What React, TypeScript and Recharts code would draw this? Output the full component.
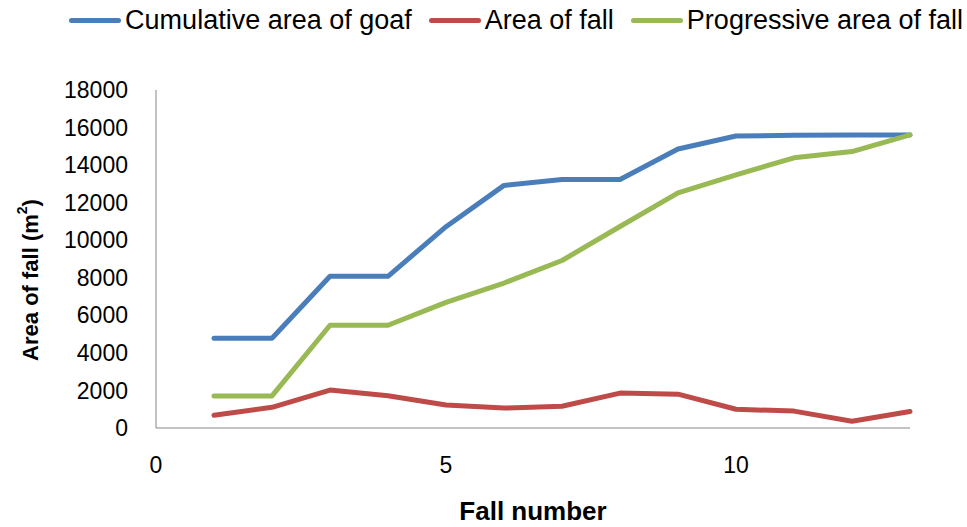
import { LineChart, Line, XAxis, YAxis, Legend, Label } from "recharts";

const fallNumbers = [1, 2, 3, 4, 5, 6, 7, 8, 9, 10, 11, 12, 13];
const cumulativeGoaf = [4780, 4780, 8080, 8080, 10720, 12920, 13230, 13230, 14860, 15550, 15590, 15600, 15610];
const areaOfFall = [680, 1100, 2020, 1720, 1220, 1060, 1160, 1860, 1800, 1000, 900, 360, 880];
const progressiveFall = [1710, 1710, 5470, 5470, 6690, 7720, 8920, 10730, 12520, 13480, 14390, 14720, 15610];
const xTicks = [0, 5, 10];
const yTicks = [0, 2000, 4000, 6000, 8000, 10000, 12000, 14000, 16000, 18000];

const series = [
    { key: "goaf", name: "Cumulative area of goaf", color: "#4A7EBB" },
    { key: "fall", name: "Area of fall", color: "#BE4B48" },
    { key: "progressive", name: "Progressive area of fall", color: "#98B954" },
];

const data = fallNumbers.map((n, i) => ({
    n,
    goaf: cumulativeGoaf[i],
    fall: areaOfFall[i],
    progressive: progressiveFall[i],
}));

const font = "'Liberation Sans', Arial, sans-serif";

function LegendBox() {
    return (
        <div style={{ display: "flex", justifyContent: "flex-end", alignItems: "center", height: 34, fontFamily: font, fontSize: 27, color: "#000", paddingRight: 4 }}>
            {series.map(s => (
                <div key={s.key} style={{ display: "flex", alignItems: "center", marginLeft: 17 }}>
                    <div style={{ width: 52, height: 5, borderRadius: 3, background: s.color, marginRight: 4 }} />
                    <span>{s.name}</span>
                </div>
            ))}
        </div>
    );
}

export default function App() {
    return (
        <div style={{ position: "absolute", left: 0, top: 0, background: "#fff" }}>
            <LineChart width={967} height={527} data={data} margin={{ top: 56, right: 57, bottom: 0, left: 0 }}>
                <Legend verticalAlign="top" content={() => <LegendBox />} wrapperStyle={{ top: 3, left: 0, width: 967 }} />
                <XAxis
                    dataKey="n"
                    type="number"
                    domain={[0, 13]}
                    ticks={xTicks}
                    tickLine={false}
                    tickMargin={23}
                    height={99}
                    stroke="#868686"
                    tick={{ fill: "#000", fontSize: 23, fontFamily: font }}
                >
                    <Label value="Fall number" position="insideBottom" offset={7} style={{ fontWeight: "bold", fontSize: 26, fontFamily: font, fill: "#000" }} />
                </XAxis>
                <YAxis
                    type="number"
                    domain={[0, 18000]}
                    ticks={yTicks}
                    tickLine={false}
                    tickMargin={22}
                    width={156}
                    stroke="#868686"
                    tick={{ fill: "#000", fontSize: 23, fontFamily: font }}
                >
                    <Label
                        content={({ viewBox }: any) => {
                            const cy = viewBox.y + viewBox.height / 2 + 21;
                            return (
                                <text x={30} y={cy} transform={`rotate(-90, 30, ${cy})`} textAnchor="middle" dominantBaseline="central"
                                    style={{ fontWeight: "bold", fontSize: 22, fontFamily: font, fill: "#000" }}>
                                    Area of fall (m<tspan fontSize={14} dy={-8}>2</tspan><tspan dy={8}>)</tspan>
                                </text>
                            );
                        }}
                    />
                </YAxis>
                {series.map(s => (
                    <Line key={s.key} dataKey={s.key} name={s.name} stroke={s.color} strokeWidth={5} dot={false} isAnimationActive={false} strokeLinejoin="round" strokeLinecap="round" />
                ))}
            </LineChart>
        </div>
    );
}
